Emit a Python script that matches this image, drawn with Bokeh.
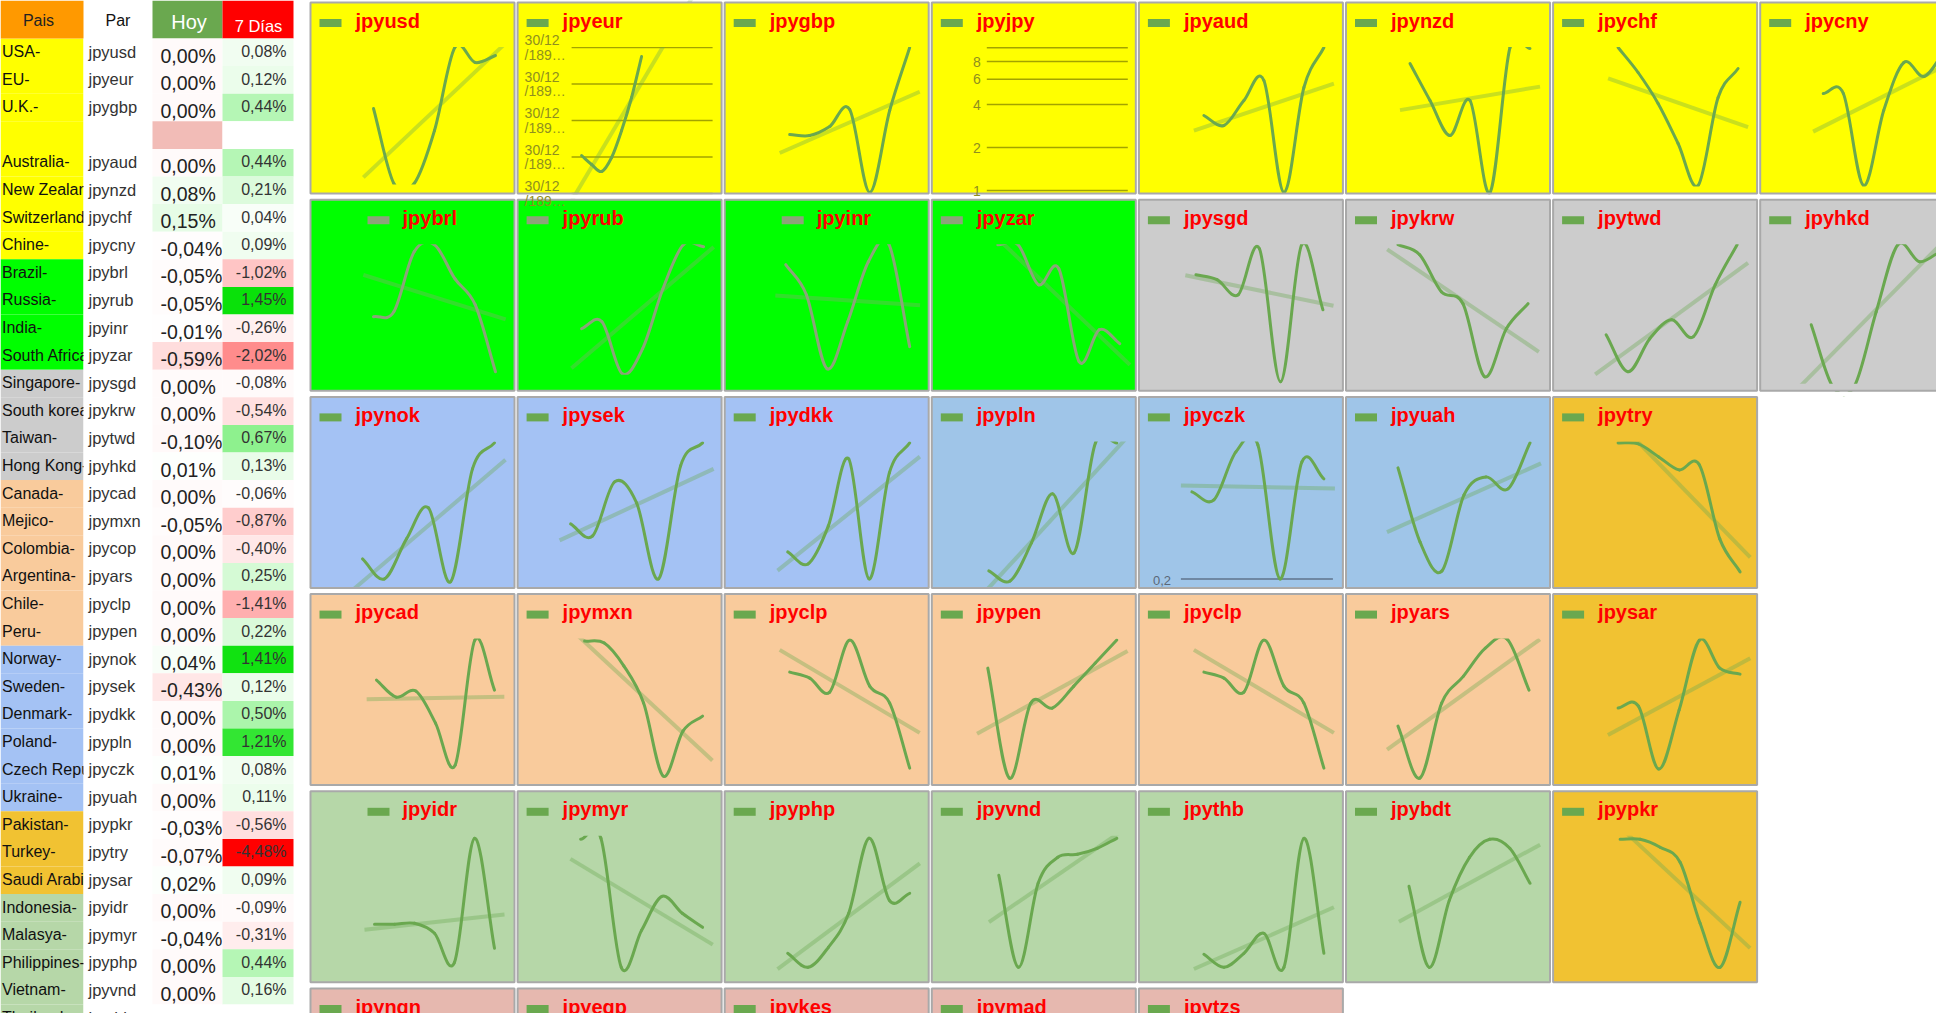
import numpy as np
from bokeh.plotting import figure
from bokeh.models import Range1d
from bokeh.core.properties import value
from bokeh.embed import file_html
from bokeh.resources import INLINE

FONT = value("Liberation Sans")

# ---------------- table data ----------------
paises = ["USA-", "EU-", "U.K.-", "", "Australia-", "New Zealand-", "Switzerland-", "Chine-",
          "Brazil-", "Russia-", "India-", "South Africa-",
          "Singapore-", "South korea-", "Taiwan-", "Hong Kong-",
          "Canada-", "Mejico-", "Colombia-", "Argentina-", "Chile-", "Peru-",
          "Norway-", "Sweden-", "Denmark-", "Poland-", "Czech Republic-", "Ukraine-",
          "Pakistan-", "Turkey-", "Saudi Arabia-",
          "Indonesia-", "Malasya-", "Philippines-", "Vietnam-", "Thailand-"]
pares = ["jpyusd", "jpyeur", "jpygbp", "", "jpyaud", "jpynzd", "jpychf", "jpycny",
         "jpybrl", "jpyrub", "jpyinr", "jpyzar",
         "jpysgd", "jpykrw", "jpytwd", "jpyhkd",
         "jpycad", "jpymxn", "jpycop", "jpyars", "jpyclp", "jpypen",
         "jpynok", "jpysek", "jpydkk", "jpypln", "jpyczk", "jpyuah",
         "jpypkr", "jpytry", "jpysar",
         "jpyidr", "jpymyr", "jpyphp", "jpyvnd", "jpythb"]
hoy = [0.00, 0.00, 0.00, None, 0.00, 0.08, 0.15, -0.04,
       -0.05, -0.05, -0.01, -0.59,
       0.00, 0.00, -0.10, 0.01,
       0.00, -0.05, 0.00, 0.00, 0.00, 0.00,
       0.04, -0.43, 0.00, 0.00, 0.01, 0.00,
       -0.03, -0.07, 0.02,
       0.00, -0.04, 0.00, 0.00, None]
siete_dias = [0.08, 0.12, 0.44, None, 0.44, 0.21, 0.04, 0.09,
              -1.02, 1.45, -0.26, -2.02,
              -0.08, -0.54, 0.67, 0.13,
              -0.06, -0.87, -0.40, 0.25, -1.41, 0.22,
              1.41, 0.12, 0.50, 1.21, 0.08, 0.11,
              -0.56, -4.48, 0.09,
              -0.09, -0.31, 0.44, 0.16, None]
regiones = ["a"] * 8 + ["b"] * 4 + ["c"] * 4 + ["d"] * 6 + ["e"] * 6 + ["f"] * 3 + ["g"] * 5
encabezados = ["Pais", "Par", "Hoy", "7 Días"]

# ---------------- sparkline data (7 daily readings, relative level) ----------------
fila0_pares = ["jpyusd", "jpyeur", "jpygbp", "jpyjpy", "jpyaud", "jpynzd", "jpychf", "jpycny"]
fila0_valores = [
    [85, 10, 10, 63, 146, 131, 138],
    [38, 29, 22, 36, 63, 96, 137],
    [59, 58, 67, 84, 1, 83, 146],
    [],
    [78, 68, 93, 113, 1, 106, 146],
    [130, 93, 58, 93, 1, 146, 145],
    [146, 121, 90, 50, 8, 96, 125],
    [100, 100, 8, 83, 131, 117, 142],
]
fila1_pares = ["jpybrl", "jpyrub", "jpyinr", "jpyzar", "jpysgd", "jpykrw", "jpytwd", "jpyhkd"]
fila1_valores = [
    [74, 79, 139, 146, 112, 86, 19],
    [62, 69, 17, 42, 102, 146, 144],
    [126, 96, 22, 69, 129, 146, 44],
    [146, 146, 106, 122, 29, 61, 47],
    [116, 111, 96, 142, 9, 146, 81],
    [146, 136, 99, 87, 14, 62, 87],
    [56, 19, 52, 71, 54, 106, 146],
    [66, 4, 5, 79, 146, 129, 140],
]
fila2_pares = ["jpynok", "jpysek", "jpydkk", "jpypln", "jpyczk", "jpyuah", "jpytry"]
fila2_valores = [
    [29, 9, 49, 80, 6, 119, 145],
    [64, 52, 106, 85, 9, 122, 145],
    [36, 24, 62, 129, 9, 115, 145],
    [17, 7, 45, 94, 35, 145, 145],
    [96, 88, 136, 143, 9, 126, 109],
    [120, 46, 17, 93, 111, 99, 145],
    [145, 144, 131, 118, 123, 49, 16],
]
fila3_pares = ["jpycad", "jpymxn", "jpyclp", "jpypen", "jpyclp", "jpyars", "jpysar"]
fila3_valores = [
    [105, 88, 94, 62, 20, 145, 95],
    [144, 142, 119, 82, 9, 54, 69],
    [113, 107, 93, 145, 99, 82, 17],
    [117, 7, 82, 77, 99, 122, 145],
    [113, 107, 93, 145, 99, 82, 17],
    [59, 7, 82, 109, 137, 146, 95],
    [77, 79, 16, 75, 145, 117, 111],
]
fila4_pares = ["jpyidr", "jpymyr", "jpyphp", "jpyvnd", "jpythb", "jpybdt", "jpypkr"]
fila4_valores = [
    [58, 58, 59, 49, 20, 144, 34],
    [143, 144, 15, 52, 86, 69, 55],
    [29, 15, 35, 69, 144, 82, 89],
    [107, 15, 99, 125, 128, 134, 144],
    [28, 15, 29, 49, 15, 144, 29],
    [96, 15, 82, 125, 143, 134, 99],
    [143, 143, 135, 120, 59, 15, 80],
]
fila5_pares = ["jpyngn", "jpyegp", "jpykes", "jpymad", "jpytzs"]
fila5_valores = [[], [], [], [], []]

# axis ticks of special panels
eur_ticks = [146, 109.5, 73, 36.5, 0]
jpy_ticks = [1, 2, 4, 6, 8, 10]
jpy_labels = ["1", "2", "4", "6", "8", ""]
czk_tick = 9
czk_label = "0,2"

# ---------------- styles ----------------
REG = {"a": "#ffff00", "b": "#00ff00", "c": "#cccccc", "d": "#f9cb9c",
       "e": "#a4c2f4", "f": "#f1c232", "g": "#b6d7a8"}
FONDOS = [
    ["#ffff00"] * 8,
    ["#00ff00"] * 4 + ["#cccccc"] * 4,
    ["#a4c2f4"] * 3 + ["#9fc5e8"] * 3 + ["#f1c232"],
    ["#f9cb9c"] * 6 + ["#f1c232"],
    ["#b6d7a8"] * 6 + ["#f1c232"],
    ["#e6b8af"] * 5,
]
SPAN = {
    "jpyusd": (64, 186), "jpyeur": (65, 125), "jpygbp": (66, 186), "jpyaud": (66, 186),
    "jpynzd": (65, 185), "jpychf": (66, 186), "jpycny": (64, 185),
    "jpybrl": (64, 186), "jpyrub": (65, 187), "jpyinr": (62, 186), "jpyzar": (67, 189),
    "jpysgd": (58, 185), "jpykrw": (53, 183), "jpytwd": (54, 185), "jpyhkd": (52, 182),
    "jpynok": (53, 185), "jpysek": (54, 186), "jpydkk": (64, 186), "jpypln": (58, 186),
    "jpyczk": (54, 186), "jpyuah": (53, 185), "jpytry": (66, 188),
    "jpycad": (67, 185), "jpymxn": (68, 186), "jpyclp": (66, 186), "jpypen": (57, 186),
    "jpyars": (53, 184), "jpysar": (66, 188),
    "jpyidr": (65, 185), "jpymyr": (64, 186), "jpyphp": (64, 186), "jpyvnd": (68, 186),
    "jpythb": (66, 186), "jpybdt": (64, 185), "jpypkr": (68, 188),
}
CLIP = {"jpyusd": 183, "jpychf": 185, "jpycny": 185, "jpybrl": 176, "jpyrub": 176,
        "jpyinr": 176, "jpyzar": 176, "jpyhkd": 185, "jpyuah": 180}
LEG_SHIFT = {"jpybrl", "jpyinr", "jpyidr"}
GREY_LINE = "#8ca47a"
LINE_COLOR = {"jpybrl": GREY_LINE, "jpyrub": GREY_LINE, "jpyinr": GREY_LINE, "jpyzar": GREY_LINE}
SERIES = "#6aa84f"

def celda(v):
    if v is None:
        return "#ffffff"
    if v > 0:
        t = min(v / 1.45, 1.0)
        r = int(round(255 - t * 245)); g = int(round(255 - t * 30))
        return "#%02x%02x%02x" % (r, g, r)
    if v < 0:
        t = min(-v / 4.48, 1.0)
        g = int(round(255 * (1 - t)))
        return "#%02x%02x%02x" % (255, g, g)
    return "#fffafa"

def pct(v):
    return ("%.2f" % v).replace(".", ",") + "%"

# ---------------- figure ----------------
W, H = 1936, 1013
p = figure(width=W, height=H, x_range=Range1d(0, W), y_range=Range1d(H, 0),
           output_backend="svg", toolbar_location=None, min_border=0,
           x_axis_location=None, y_axis_location=None, outline_line_color=None,
           background_fill_color="white", border_fill_color="white")
p.grid.grid_line_color = None

# ---------------- table ----------------
ROW_H = 27.6
TOP0 = 38.0
n = len(paises)
tops = [TOP0 + i * ROW_H for i in range(n)]
bots = [t + ROW_H for t in tops]
bots[-1] = H

p.quad(left=0, right=83, top=tops, bottom=bots, fill_color=[REG[g] for g in regiones], line_color=None)
p.quad(left=[0, 152, 222], right=[83, 222, 293], top=[0, 0, 0], bottom=[TOP0] * 3,
       fill_color=["#ff9900", "#6aa84f", "#ff0000"], line_color=None)
p.text(x=1.5, y=[t + 13 for t in tops], text=paises, text_font=FONT, text_font_size="16px",
       text_color="#111111", text_baseline="middle")
p.quad(left=83, right=152, top=TOP0, bottom=H, fill_color="white", line_color=None)
p.text(x=88, y=[t + 13 for t in tops], text=pares, text_font=FONT, text_font_size="16.5px",
       text_color="#333333", text_baseline="middle")
hoy_col = ["#f2bcb7" if pa == "" else celda(v) for pa, v in zip(pares, hoy)]
p.quad(left=152, right=222, top=tops, bottom=bots, fill_color=hoy_col, line_color=None)
ih = [i for i, v in enumerate(hoy) if v is not None]
p.text(x=160, y=[tops[i] + 17 for i in ih], text=[pct(hoy[i]) for i in ih], text_font=FONT,
       text_font_size="19.5px", text_color="#222222", text_baseline="middle")
p.quad(left=222, right=293, top=tops, bottom=bots, fill_color=[celda(v) for v in siete_dias], line_color=None)
i7 = [i for i, v in enumerate(siete_dias) if v is not None]
p.text(x=286, y=[tops[i] + 13 for i in i7], text=[pct(siete_dias[i]) for i in i7], text_font=FONT,
       text_font_size="16px", text_color="#333333", text_baseline="middle", text_align="right")
p.text(x=[38, 117.5, 188.5, 258], y=[20, 20, 21.5, 25.5], text=encabezados, text_font=FONT,
       text_font_size=["16px", "16px", "20px", "16.5px"], text_align="center",
       text_color=["#222222", "#111111", "#ffffff", "#ffffff"], text_baseline="middle")

# ---------------- panels ----------------
filas = [(fila0_pares, fila0_valores), (fila1_pares, fila1_valores), (fila2_pares, fila2_valores),
         (fila3_pares, fila3_valores), (fila4_pares, fila4_valores), (fila5_pares, fila5_valores)]
COLW, ROWH = 207.1, 197.2
specs = []
xr, yr = {}, {}
for r, (names, vals_rows) in enumerate(filas):
    for c, name in enumerate(names):
        L = 309 + COLW * c
        T = 1 + ROWH * r
        key = "s%d%d" % (r, c)
        s = dict(name=name, L=L, T=T, bg=FONDOS[r][c], vals=vals_rows[c], key=key)
        if len(s["vals"]) > 1:
            x0, x1 = SPAN[name]
            dx = (x1 - x0) / (len(s["vals"]) - 1)
            a = -(L + x0) / dx
            xr[key] = Range1d(start=a, end=a + W / dx)
            yr[key] = Range1d(start=T + 192 - H, end=T + 192)
            s["x0"], s["dx"] = x0, dx
        specs.append(s)
        if name == "jpyjpy":
            d = (T + 189) / 43.0
            yr["jpylog"] = Range1d(start=d - H / 43.0, end=d)
p.extra_x_ranges = xr
p.extra_y_ranges = yr

# backgrounds
p.quad(left=[s["L"] + 1 for s in specs], right=[s["L"] + 205 for s in specs],
       top=[s["T"] + 1 for s in specs], bottom=[s["T"] + 192 for s in specs],
       fill_color=[s["bg"] for s in specs], line_color=None)

# gridlines of special panels
for s in specs:
    if s["name"] == "jpyeur":
        p.segment(x0=s["L"] + 55, x1=s["L"] + 196, y0=eur_ticks, y1=eur_ticks, line_color="#a3a300",
                  line_width=1.5, y_range_name=s["key"])
    if s["name"] == "jpyjpy":
        u = np.log2(np.array(jpy_ticks, float))
        p.segment(x0=s["L"] + 56, x1=s["L"] + 197, y0=u, y1=u, line_color="#a3a300",
                  line_width=1.5, y_range_name="jpylog")
    if s["name"] == "jpyczk":
        p.segment(x0=[s["L"] + 43], x1=[s["L"] + 195], y0=[czk_tick], y1=[czk_tick], line_color="#6f88a3",
                  line_width=2, y_range_name=s["key"])

# series and trend lines
for s in specs:
    v = np.array(s["vals"], float)
    if len(v) < 2:
        continue
    nv = len(v)
    i = np.arange(nv, dtype=float)
    m = np.empty(nv)
    m[1:-1] = (v[2:] - v[:-2]) / 2.0
    m[0] = v[1] - v[0]
    m[-1] = v[-1] - v[-2]
    col = LINE_COLOR.get(s["name"], SERIES)
    k, b = np.polyfit(i, v, 1)
    if s["name"] == "jpyeur":
        fx0, fx1 = (55 - s["x0"]) / s["dx"], (196 - s["x0"]) / s["dx"]
    else:
        fx0, fx1 = -0.5, nv - 0.5
    p.segment(x0=[fx0], y0=[k * fx0 + b], x1=[fx1], y1=[k * fx1 + b], line_color=col, line_alpha=0.36,
              line_width=4, x_range_name=s["key"], y_range_name=s["key"])
    p.bezier(x0=i[:-1], y0=v[:-1], x1=i[1:], y1=v[1:],
             cx0=i[:-1] + 1 / 3.0, cy0=v[:-1] + m[:-1] / 3.0,
             cx1=i[1:] - 1 / 3.0, cy1=v[1:] - m[1:] / 3.0,
             line_color=col, line_width=3, line_cap="round",
             x_range_name=s["key"], y_range_name=s["key"])

# clip covers (chart area limits)
cl, cr, ct, cb, cc = [], [], [], [], []
for s in specs:
    L, T = s["L"], s["T"]
    cl += [L + 1, L + 1]; cr += [L + 205, L + 205]
    ct += [T + 1, T + CLIP.get(s["name"], 192)]
    cb += [T + 45.5, T + 192]
    cc += [s["bg"], s["bg"]]
p.quad(left=cl, right=cr, top=ct, bottom=cb, fill_color=cc, line_color=None)
p.quad(left=308, right=W, top=[1 + ROWH * r + 193 for r in range(5)],
       bottom=[1 + ROWH * (r + 1) for r in range(5)], fill_color="white", line_color=None)

# panel borders
p.quad(left=[s["L"] + 1 for s in specs], right=[s["L"] + 205 for s in specs],
       top=[s["T"] + 1 for s in specs], bottom=[s["T"] + 192 for s in specs],
       fill_color=None, line_color="#a9a9a9", line_width=2)

# legend markers and titles
ml = [s["L"] + (58 if s["name"] in LEG_SHIFT else 10) for s in specs]
p.quad(left=ml, right=[x + 22 for x in ml], top=[s["T"] + 17.5 for s in specs],
       bottom=[s["T"] + 25.5 for s in specs],
       fill_color=[LINE_COLOR.get(s["name"], SERIES) for s in specs], line_color=None)
p.text(x=[s["L"] + (93 if s["name"] in LEG_SHIFT else 46) for s in specs],
       y=[s["T"] + 19 for s in specs], text=[s["name"] for s in specs],
       text_font=FONT, text_font_style="bold", text_font_size="20px",
       text_color="#ff0000", text_baseline="middle")

# axis labels of special panels
for s in specs:
    if s["name"] == "jpyeur":
        p.text(x=s["L"] + 8, y=[t + 7.5 for t in eur_ticks], text=["30/12"] * len(eur_ticks),
               text_font=FONT, text_font_size="14px", text_color="#8f8f1f", text_baseline="middle",
               y_range_name=s["key"])
        p.text(x=s["L"] + 8, y=[t - 7 for t in eur_ticks], text=["/189\u2026"] * len(eur_ticks),
               text_font=FONT, text_font_size="14px", text_color="#8f8f1f", text_baseline="middle",
               y_range_name=s["key"])
    if s["name"] == "jpyjpy":
        p.text(x=s["L"] + 50, y=np.log2(np.array(jpy_ticks, float)), text=jpy_labels,
               text_font=FONT, text_font_size="14px", text_color="#8f8f1f", text_baseline="middle",
               text_align="right", y_range_name="jpylog")
    if s["name"] == "jpyczk":
        p.text(x=[s["L"] + 15], y=[czk_tick - 2], text=[czk_label], text_font=FONT,
               text_font_size="13px", text_color="#5b6878", text_baseline="middle",
               y_range_name=s["key"])

open("out.html", "w").write(file_html(p, INLINE))
